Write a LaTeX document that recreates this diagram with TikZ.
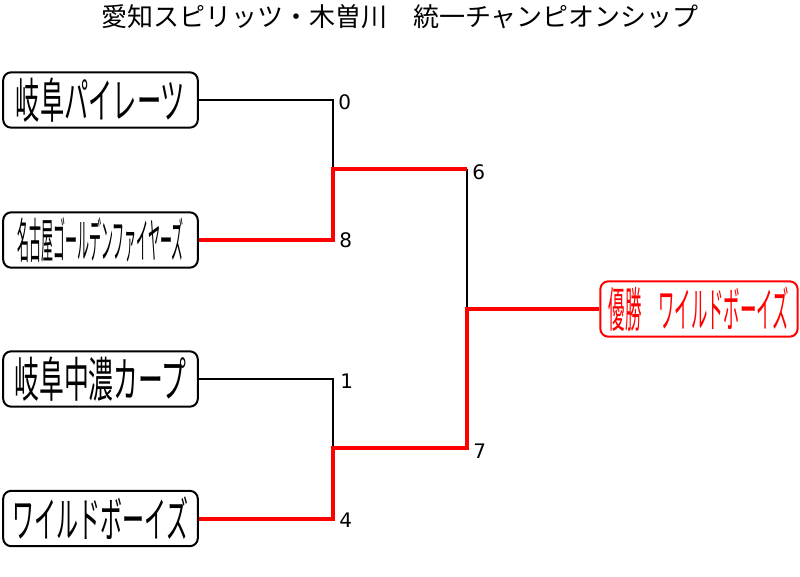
\documentclass[tikz,border=0pt]{standalone}
\usepackage{fontspec}
\newfontfamily\jp{Noto Sans CJK JP}
\newfontfamily\numfont{DejaVu Sans}
\begin{document}
\begin{tikzpicture}[x=0.75pt,y=-0.75pt,
  teambox/.style={draw=black,line width=1.5pt,rounded corners=6pt,fill=white,
    minimum width=146pt,minimum height=41.5pt,inner sep=0pt,font=\jp},
  winbox/.style={teambox,draw=red,text=red,minimum width=148pt},
  score/.style={anchor=west,inner sep=0pt,font=\numfont\fontsize{15}{15}\selectfont},
  thinline/.style={black,line width=1.1pt},
  redline/.style={red,line width=3pt}]
\useasboundingbox (0,0) rectangle (800,577);
\node[font=\jp\fontsize{19.5}{20}\selectfont] (title) at (400,17) {愛知スピリッツ・木曽川　統一チャンピオンシップ};
\node[teambox] (b1) at (100.5,100) {\scalebox{0.505}[1]{\fontsize{36}{36}\selectfont 岐阜パイレーツ}};
\node[teambox] (b2) at (100.5,240) {\scalebox{0.25}[1]{\fontsize{36}{36}\selectfont 名古屋ゴールデンファイヤーズ}};
\node[teambox] (b3) at (100.5,379) {\scalebox{0.517}[1]{\fontsize{36}{36}\selectfont 岐阜中濃カープ}};
\node[teambox] (b4) at (100.5,518.5) {\scalebox{0.458}[1]{\fontsize{36}{36}\selectfont ワイルドボーイズ}};
\node[winbox] (win) at (699,309) {\scalebox{0.342}[1]{\fontsize{36}{36}\selectfont 優勝　ワイルドボーイズ}};
\coordinate (j1) at (333,169);
\coordinate (j2) at (333,448);
\coordinate (s1) at (467,169);
\coordinate (s2) at (467,448);
\coordinate (w1) at (467,309);
\draw[thinline] (b1.east) -| (j1);
\draw[thinline] (b3.east) -| (j2);
\draw[thinline] (s1) -- (w1);
\draw[redline] (b2.east) -| (j1) -- (s1);
\draw[redline] (b4.east) -| (j2) -- (s2) -- (w1) -- (win.west);
\node[score] (n0) at (338,102) {0};
\node[score] (n8) at (339,240) {8};
\node[score] (n6) at (472,172) {6};
\node[score] (n7) at (473,451) {7};
\node[score] (n1) at (340,381) {1};
\node[score] (n4) at (339,520) {4};
\end{tikzpicture}
\end{document}
